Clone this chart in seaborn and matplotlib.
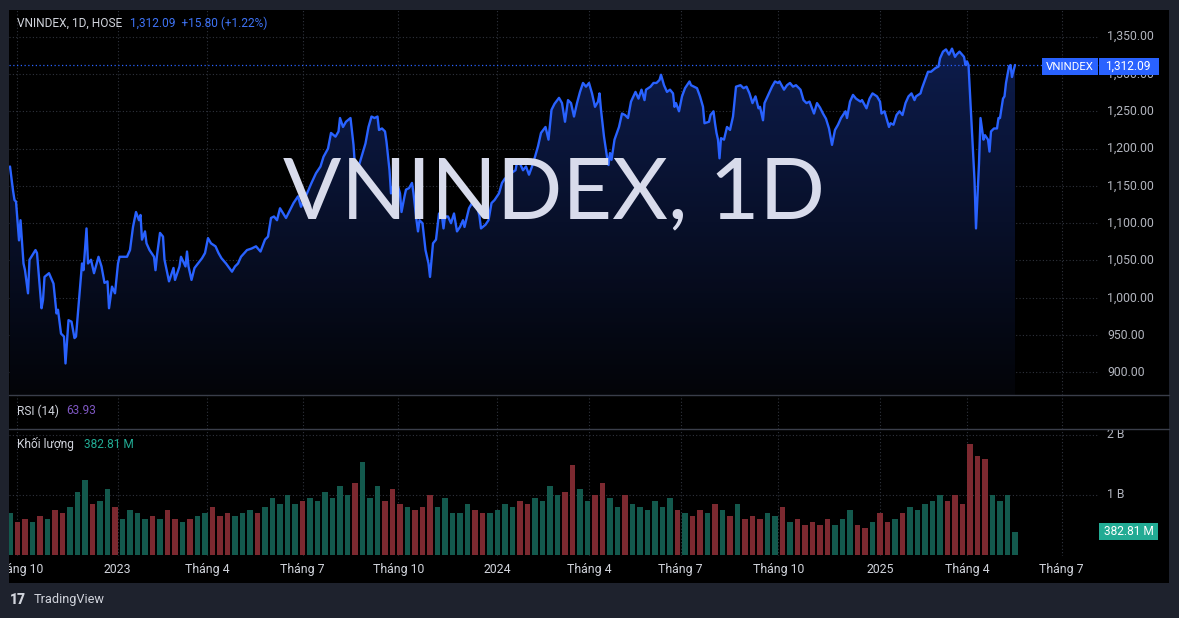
import numpy as np
import pandas as pd
import matplotlib
matplotlib.use("Agg")
import matplotlib.pyplot as plt
import seaborn as sns
from matplotlib.patches import Rectangle, Polygon
from matplotlib.colors import LinearSegmentedColormap

# ---------------- data ----------------
days = [0, 2, 3, 4, 6, 7, 9, 10, 12, 13, 17, 18, 21, 22, 23, 26, 29, 31, 32, 34, 36, 37, 39, 41, 43, 44,
        48, 49, 51, 52, 54, 56, 59, 61, 63, 65, 66, 68, 70, 72, 73, 78, 80, 82, 84, 86, 87, 88, 90, 91,
        93, 96, 97, 98, 100, 102, 103, 106, 109, 110, 113, 114, 117, 118, 119, 121, 123, 128, 130, 132,
        134, 137, 139, 141, 144, 148, 150, 152, 154, 158, 161, 164, 167, 170, 172, 174, 176, 178, 180,
        184, 189, 192, 194, 198, 201, 204, 207, 209, 212, 214, 217, 219, 220, 222, 224, 227, 229, 230,
        232, 233, 237, 239, 241, 243, 245, 246, 248, 250, 251, 253, 254, 256, 258, 260, 261, 263, 264,
        266, 268, 269, 271, 272, 273, 275, 277, 278, 279, 280, 282, 284, 286, 288, 289, 290, 292, 294,
        296, 298, 300, 302, 303, 306, 308, 310, 311, 313, 314, 317, 319, 321, 323, 326, 328, 330, 332,
        334, 337, 338, 340, 342, 344, 346, 348, 350, 352, 354, 357, 359, 361, 363, 366, 368, 370, 372,
        374, 376, 378, 380, 382, 384, 386, 388, 390, 392, 393, 394, 396, 398, 399, 400, 401, 403, 406,
        408, 410, 412, 414, 417, 419, 421, 423, 424, 427, 429, 431, 433, 434, 436, 438, 440, 442, 443,
        444, 446, 448, 450, 453, 454, 458, 460, 462, 463, 466, 467, 469, 470, 471, 472, 473, 474, 476,
        478, 480, 482, 484, 487, 489, 491, 493, 495, 497, 499, 500, 502, 503, 506, 508, 510, 512, 513,
        516, 518, 520, 522, 524, 527, 529, 531, 533, 536, 538, 540, 542, 544, 546, 548, 550, 552, 554,
        557, 558, 560, 562, 564, 567, 568, 571, 573, 575, 578, 580, 581, 583, 586, 587, 589, 591, 593,
        595, 597, 599, 601, 603, 604, 607, 608, 610, 612, 614, 617, 619, 620, 622, 624, 626, 628, 630,
        631, 633, 636, 637, 638, 639, 641, 643, 644, 646, 647, 649, 650, 652, 653, 654, 656, 658, 659,
        660, 662, 663, 664, 666, 667, 668, 670]
close = [1176, 1144, 1131, 1129, 1077, 1104, 1046, 1037, 1006, 1051, 1064, 1060, 986, 997, 1028, 1033, 1019,
         979, 984, 952, 948, 912, 970, 968, 946, 948, 1046, 1037, 1093, 1046, 1051, 1033, 1055, 1042, 1020,
         1022, 986, 1015, 1006, 1046, 1055, 1055, 1064, 1095, 1115, 1104, 1111, 1078, 1089, 1073, 1064,
         1055, 1037, 1057, 1087, 1082, 1051, 1022, 1040, 1024, 1042, 1055, 1042, 1062, 1042, 1024, 1040,
         1053, 1060, 1080, 1073, 1069, 1060, 1053, 1046, 1035, 1042, 1046, 1055, 1064, 1066, 1069, 1062,
         1078, 1082, 1107, 1109, 1104, 1120, 1107, 1127, 1136, 1122, 1140, 1154, 1167, 1176, 1189, 1200,
         1221, 1216, 1223, 1241, 1229, 1236, 1241, 1205, 1176, 1174, 1180, 1207, 1229, 1243, 1241, 1243,
         1225, 1227, 1223, 1209, 1171, 1140, 1154, 1154, 1140, 1115, 1136, 1145, 1147, 1154, 1140, 1104,
         1089, 1104, 1100, 1064, 1055, 1046, 1028, 1073, 1078, 1113, 1109, 1093, 1109, 1109, 1100, 1113,
         1089, 1095, 1104, 1095, 1120, 1127, 1122, 1127, 1109, 1093, 1098, 1104, 1127, 1131, 1140, 1154,
         1160, 1158, 1167, 1171, 1182, 1180, 1171, 1176, 1165, 1176, 1189, 1203, 1221, 1229, 1212, 1252,
         1260, 1268, 1261, 1236, 1265, 1261, 1243, 1261, 1276, 1288, 1283, 1288, 1274, 1256, 1263, 1274,
         1252, 1216, 1189, 1178, 1194, 1185, 1212, 1229, 1247, 1245, 1241, 1263, 1276, 1267, 1279, 1265,
         1279, 1283, 1288, 1288, 1292, 1299, 1285, 1276, 1279, 1274, 1256, 1261, 1250, 1270, 1281, 1290,
         1285, 1281, 1270, 1256, 1234, 1236, 1245, 1250, 1234, 1221, 1212, 1187, 1214, 1212, 1229, 1225,
         1243, 1283, 1285, 1281, 1283, 1274, 1261, 1270, 1254, 1256, 1238, 1261, 1274, 1283, 1290, 1288,
         1290, 1279, 1285, 1288, 1283, 1285, 1279, 1265, 1261, 1263, 1247, 1261, 1255, 1247, 1240, 1227,
         1205, 1225, 1232, 1241, 1250, 1241, 1263, 1272, 1267, 1263, 1265, 1254, 1267, 1274, 1270, 1263,
         1247, 1250, 1229, 1234, 1232, 1245, 1250, 1245, 1261, 1270, 1274, 1265, 1270, 1274, 1281, 1292,
         1303, 1303, 1308, 1310, 1321, 1330, 1333, 1326, 1334, 1323, 1326, 1330, 1323, 1312, 1317, 1312,
         1234, 1158, 1093, 1180, 1241, 1212, 1218, 1212, 1196, 1223, 1227, 1227, 1241, 1241, 1267, 1270,
         1288, 1310, 1312, 1296, 1312.09]

# volume (billions of shares), read every 5 sessions
vol_days = list(range(0, 675, 5))
vol_values = [0.70, 0.55, 0.60, 0.55, 0.65, 0.60, 0.75, 0.70, 0.80, 1.05, 1.25, 0.85, 0.90, 1.10, 0.80,
              0.60, 0.75, 0.70, 0.60, 0.65, 0.60, 0.75, 0.60, 0.55, 0.60, 0.65, 0.70, 0.80, 0.65, 0.70,
              0.65, 0.70, 0.75, 0.70, 0.80, 0.95, 0.85, 1.00, 0.85, 0.90, 0.95, 0.90, 1.05, 0.95, 1.15,
              1.00, 1.20, 1.55, 0.95, 1.15, 0.90, 1.10, 0.85, 0.80, 0.75, 0.80, 1.00, 0.80, 0.95, 0.70,
              0.70, 0.85, 0.75, 0.70, 0.70, 0.75, 0.85, 0.80, 0.90, 0.85, 0.95, 0.90, 1.15, 1.00, 1.05,
              1.50, 1.10, 0.90, 1.00, 1.20, 0.95, 0.80, 1.00, 0.85, 0.80, 0.75, 0.90, 0.80, 0.95, 0.75,
              0.70, 0.65, 0.75, 0.70, 0.85, 0.75, 0.65, 0.85, 0.60, 0.65, 0.60, 0.70, 0.65, 0.80, 0.55,
              0.60, 0.50, 0.55, 0.50, 0.60, 0.50, 0.60, 0.75, 0.50, 0.45, 0.55, 0.70, 0.55, 0.60, 0.70,
              0.80, 0.75, 0.85, 0.90, 1.00, 0.90, 1.00, 0.85, 1.85, 1.65, 1.60, 1.00, 0.90, 1.00, 0.383]

tick_days = [4.9, 71.7, 131.5, 195.0, 258.9, 324.9, 386.2, 447.1, 512.2, 580.0, 638.0, 701.0]
tick_labels = ["Tháng 10", "2023", "Tháng 4", "Tháng 7", "Tháng 10", "2024",
               "Tháng 4", "Tháng 7", "Tháng 10", "2025", "Tháng 4", "Tháng 7"]
price_ticks = [900, 950, 1000, 1050, 1100, 1150, 1200, 1250, 1300, 1350]
vol_ticks = [1, 2]
vol_tick_labels = ["1 B", "2 B"]

symbol = "VNINDEX"
last_close = 1312.09
change = 15.80
change_pct = 1.22
rsi_value = 63.93
last_volume_m = 382.81

# ---------------- style ----------------
W, H = 1179, 618
sns.set_theme(style="dark")
plt.rcParams['font.family'] = ['Roboto', 'DejaVu Sans']

BG = '#1e222d'
TXT = '#b2b5be'
GRID = '#2f333d'
BLUE = '#2962ff'

fig = plt.figure(figsize=(W / 100, H / 100), dpi=100, facecolor=BG)


def px_axes(x0, y0, x1, y1):
    a = fig.add_axes([x0 / W, 1 - y1 / H, (x1 - x0) / W, (y1 - y0) / H])
    a.set_zorder(1)
    return a


def fy(y):
    return 1 - y / H


def fx(x):
    return x / W


# black chart panel
fig.patches.append(Rectangle((fx(9), fy(583)), (1169 - 9) / W, (583 - 10) / H,
                             transform=fig.transFigure, facecolor='black', edgecolor='none', zorder=-10))

XL = (-0.67, 726)
PL, PR = 9, 1099

# ---- price pane ----
ax = px_axes(PL, 10, PR, 395)
ax.set_facecolor('black')
ymin, ymax = 869.7, 1385.8
df = pd.DataFrame({'day': days, 'close': close})

for t in price_ticks:
    ax.axhline(t, color=GRID, lw=0.8, ls=(0, (1, 2)), zorder=0.5)
for t in tick_days:
    ax.axvline(t, color=GRID, lw=0.8, ls=(0, (1, 2)), zorder=0.5)

# gradient area
verts = [(days[0], ymin)] + list(zip(days, close)) + [(days[-1], ymin)]
poly = Polygon(verts, closed=True, facecolor='none', edgecolor='none')
ax.add_patch(poly)
cmap = LinearSegmentedColormap.from_list('g', ['#030408', '#0d1c4c'])
grad = np.linspace(0, 1, 256).reshape(-1, 1)
im = ax.imshow(grad, extent=[days[0], days[-1], ymin, max(close)], origin='lower',
               aspect='auto', cmap=cmap, zorder=1)
im.set_clip_path(poly)

sns.lineplot(data=df, x='day', y='close', ax=ax, color=BLUE, lw=1.7, zorder=3)
ax.axhline(last_close, color=BLUE, lw=0.9, ls=(0, (1, 2)), zorder=2)

ax.set_xlim(*XL)
ax.set_ylim(ymin, ymax)
ax.set_xticks([]); ax.set_yticks([])
ax.set_xlabel(''); ax.set_ylabel('')
for s in ax.spines.values():
    s.set_visible(False)

# watermark (baseline at y=218 px, width ~542 px)
wm = ax.text(0.5, (395 - 218) / 385, f"{symbol}, 1D", transform=ax.transAxes, ha='center',
             va='baseline', fontsize=70, color='#d8dbeb', family=['Lato', 'DejaVu Sans'], zorder=4)
fig.canvas.draw()
r = fig.canvas.get_renderer()
bb = wm.get_window_extent(r)
wm.set_fontsize(70 * 542 / bb.width)

# header
fig.text(fx(17), fy(23), f"{symbol}, 1D, HOSE", color='#d1d4dc', fontsize=8.6, va='center', ha='left')
fig.text(fx(130), fy(23), f"{last_close:,.2f}  +{change:.2f} (+{change_pct:.2f}%)", color='#3e73f5',
         fontsize=8.6, va='center', ha='left')

# price scale labels
for t in price_ticks:
    yy = 36.7 + (1350 - t) / 50 * 37.3
    fig.text(fx(1107), fy(yy), f"{t:,.2f}", color=TXT, fontsize=8.8, va='center', ha='left')

# last price label boxes
fig.patches.append(Rectangle((fx(1042), fy(75)), 56 / W, 17 / H, transform=fig.transFigure,
                             facecolor=BLUE, edgecolor='none', zorder=10))
fig.patches.append(Rectangle((fx(1098.5), fy(75)), 60 / W, 17 / H, transform=fig.transFigure,
                             facecolor=BLUE, edgecolor='none', zorder=10))
fig.text(fx(1070), fy(66.5), symbol, color='white', fontsize=8.2, va='center', ha='center', zorder=11)
fig.text(fx(1128), fy(66.5), f"{last_close:,.2f}", color='white', fontsize=8.6, va='center', ha='center',
         zorder=11)

# ---- RSI pane ----
ax_r = px_axes(PL, 395, PR, 429)
ax_r.set_facecolor('black')
ax_r.set_xlim(*XL)
for t in tick_days:
    ax_r.axvline(t, color=GRID, lw=0.8, ls=(0, (1, 2)))
ax_r.set_xticks([]); ax_r.set_yticks([])
for s in ax_r.spines.values():
    s.set_visible(False)
fig.text(fx(17), fy(411), "RSI (14)", color='#d1d4dc', fontsize=8.6, va='center', zorder=5)
fig.text(fx(66), fy(411), f"{rsi_value:.2f}", color='#7e57c2', fontsize=8.6, va='center', zorder=5)

# pane separators
for yy in (395, 429):
    ln = plt.Line2D([fx(9), fx(1169)], [fy(yy), fy(yy)], color='#3a3e4a', lw=1.0,
                    transform=fig.transFigure, zorder=5)
    fig.add_artist(ln)

# ---- volume pane ----
ax_v = px_axes(PL, 429, PR, 556)
ax_v.set_facecolor('black')
cols = []
for d in vol_days:
    cur = np.interp(d, days, close)
    prev = np.interp(d - 2, days, close)
    cols.append('#13594d' if cur >= prev else '#7c2930')
ax_v.bar(vol_days, vol_values, width=3.4, color=cols, zorder=2, linewidth=0)
for t in vol_ticks:
    ax_v.axhline(t, color=GRID, lw=0.8, ls=(0, (1, 2)), zorder=0.5)
for t in tick_days:
    ax_v.axvline(t, color=GRID, lw=0.8, ls=(0, (1, 2)), zorder=0.5)
ax_v.set_xlim(*XL)
ax_v.set_ylim(-0.017, 2.1)
ax_v.set_xticks([]); ax_v.set_yticks([])
for s in ax_v.spines.values():
    s.set_visible(False)
fig.text(fx(17), fy(444), "Khối lượng", color='#d1d4dc', fontsize=8.6, va='center', zorder=5)
fig.text(fx(84), fy(444), f"{last_volume_m:.2f} M", color='#22ab94', fontsize=8.6, va='center', zorder=5)
for t, lab in zip(vol_ticks, vol_tick_labels):
    fig.text(fx(1107), fy(555 - 60 * t), lab, color=TXT, fontsize=8.8, va='center', ha='left')
fig.patches.append(Rectangle((fx(1099), fy(540)), 59 / W, 17 / H, transform=fig.transFigure,
                             facecolor='#22ab94', edgecolor='none', zorder=10))
fig.text(fx(1128.5), fy(531.5), f"{last_volume_m:.2f} M", color='white', fontsize=8.6, va='center',
         ha='center', zorder=11)

# ---- time axis ----
ax_t = px_axes(PL, 556, PR, 583)
ax_t.set_facecolor('black')
ax_t.set_xlim(*XL)
ax_t.set_ylim(0, 1)
ax_t.set_xticks([]); ax_t.set_yticks([])
for s in ax_t.spines.values():
    s.set_visible(False)
for d, lab in zip(tick_days, tick_labels):
    ax_t.text(d, 0.5, lab, ha='center', va='center', color='#d1d4dc', fontsize=8.8, clip_on=True)

# branding
fig.text(fx(10), fy(600), "17", color='#d1d4dc', fontsize=10, fontweight='heavy', va='center')
fig.text(fx(34), fy(600), "TradingView", color='#d1d4dc', fontsize=9.2, va='center')

fig.savefig("out.png", dpi=100, facecolor=BG)
